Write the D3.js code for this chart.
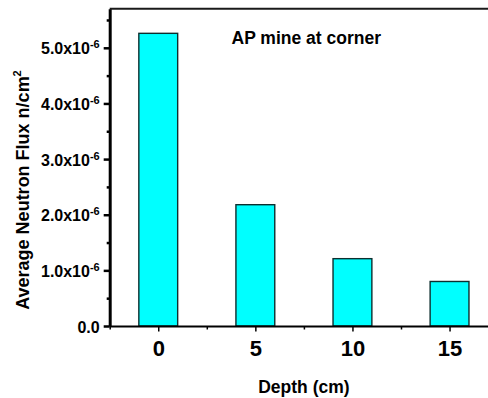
<!DOCTYPE html>
<html>
<head>
<meta charset="utf-8">
<script src="https://cdn.jsdelivr.net/npm/d3@7"></script>
<style>
  html, body { margin: 0; padding: 0; background: #fff; overflow: hidden; }
  svg { display: block; }
  text { font-family: "Liberation Sans", Arial, sans-serif; font-weight: bold; fill: #000; }
</style>
</head>
<body>
<svg id="chart" width="488" height="398"></svg>
<script>
// ---- data ----
const depths = [0, 5, 10, 15];
const flux = [5.26e-6, 2.18e-6, 1.21e-6, 0.80e-6];
const yMajorTicks = [0, 1e-6, 2e-6, 3e-6, 4e-6, 5e-6];
const yTickMantissa = ["0.0", "1.0", "2.0", "3.0", "4.0", "5.0"];
const yMinorTicks = [0.5e-6, 1.5e-6, 2.5e-6, 3.5e-6, 4.5e-6, 5.5e-6];
const xMajorTicks = [0, 5, 10, 15];
const xMinorTicks = [-2.5, 2.5, 7.5, 12.5, 17.5];
const titleText = "AP mine at corner";
const xTitle = "Depth (cm)";
const yTitle = "Average Neutron Flux n/cm";

// ---- layout ----
const svg = d3.select("#chart");
const plotLeft = 109.7, plotRight = 498.1, plotBottom = 326;
const x = d3.scaleLinear().domain([-2.5, 17.5]).range([plotLeft, plotRight]);
const y = d3.scaleLinear().domain([0, 5.7e-6]).range([plotBottom, plotBottom - 5.7 * 55.64]);
const barHalf = 1; // in data units

// top frame
svg.append("line")
  .attr("x1", plotLeft).attr("x2", 488 + 20)
  .attr("y1", y(5.7e-6)).attr("y2", y(5.7e-6))
  .attr("stroke", "#1a1a1a").attr("stroke-width", 2);

// bars
svg.append("g").selectAll("rect")
  .data(depths.map((d, i) => ({ d, v: flux[i] })))
  .join("rect")
  .attr("x", d => x(d.d - barHalf))
  .attr("width", d => x(d.d + barHalf) - x(d.d - barHalf))
  .attr("y", d => y(d.v))
  .attr("height", d => y(0) - y(d.v))
  .attr("fill", "#00ffff")
  .attr("stroke", "#0d2f2f")
  .attr("stroke-width", 1.4);

// x axis minor
const gxMinor = svg.append("g").attr("transform", `translate(0,${plotBottom})`)
  .call(d3.axisBottom(x).tickValues(xMinorTicks).tickSize(3.5).tickFormat(""));
gxMinor.select(".domain").remove();
gxMinor.selectAll("line").attr("stroke", "#000").attr("stroke-width", 1.5);

// x axis major
const gx = svg.append("g").attr("transform", `translate(0,${plotBottom})`)
  .call(d3.axisBottom(x).tickValues(xMajorTicks).tickSize(5.5).tickSizeOuter(0).tickPadding(6).tickFormat(d3.format("d")));
gx.select(".domain").attr("stroke", "#000").attr("stroke-width", 2);
gx.selectAll(".tick line").attr("stroke", "#000").attr("stroke-width", 1.5);
gx.selectAll(".tick text")
  .style("font-size", "22px").style("font-weight", "bold")
  .style("font-family", "'Liberation Sans', Arial, sans-serif")
  .attr("fill", "#000").attr("dy", null).attr("y", 30);

// y axis minor
const gyMinor = svg.append("g").attr("transform", `translate(${plotLeft},0)`)
  .call(d3.axisLeft(y).tickValues(yMinorTicks).tickSize(3).tickFormat(""));
gyMinor.select(".domain").remove();
gyMinor.selectAll("line").attr("stroke", "#000").attr("stroke-width", 2.5);

// y axis major
const gy = svg.append("g").attr("transform", `translate(${plotLeft},0)`)
  .call(d3.axisLeft(y).tickValues(yMajorTicks).tickSize(6).tickSizeOuter(0).tickPadding(4).tickFormat(""));
gy.select(".domain").attr("stroke", "#000").attr("stroke-width", 3);
gy.selectAll(".tick line").attr("stroke", "#000").attr("stroke-width", 2.5);
gy.selectAll(".tick text").each(function(d) {
  const t = d3.select(this);
  t.text(null)
    .attr("x", -10).attr("dy", null).attr("y", 6)
    .attr("text-anchor", "end")
    .style("font-size", "16px").style("font-weight", "bold")
    .style("font-family", "'Liberation Sans', Arial, sans-serif")
    .attr("fill", "#000");
  const idx = yMajorTicks.indexOf(d);
  if (d === 0) {
    t.append("tspan").text(yTickMantissa[idx]);
  } else {
    t.append("tspan").text(yTickMantissa[idx] + "x10");
    t.append("tspan").attr("dy", -6).style("font-size", "11px").text("-6");
  }
});

// chart title
svg.append("text")
  .attr("x", 231.5).attr("y", 44.3)
  .style("font-size", "17.5px")
  .text(titleText);

// x title
svg.append("text")
  .attr("x", (plotLeft + plotRight) / 2).attr("y", 392.5)
  .attr("text-anchor", "middle")
  .style("font-size", "17.5px")
  .text(xTitle);

// y title
const yt = svg.append("text")
  .attr("transform", "translate(28.5,190) rotate(-90)")
  .attr("text-anchor", "middle")
  .style("font-size", "18px");
yt.append("tspan").text(yTitle);
yt.append("tspan").attr("dy", -8).style("font-size", "11px").text("2");
</script>
</body>
</html>
